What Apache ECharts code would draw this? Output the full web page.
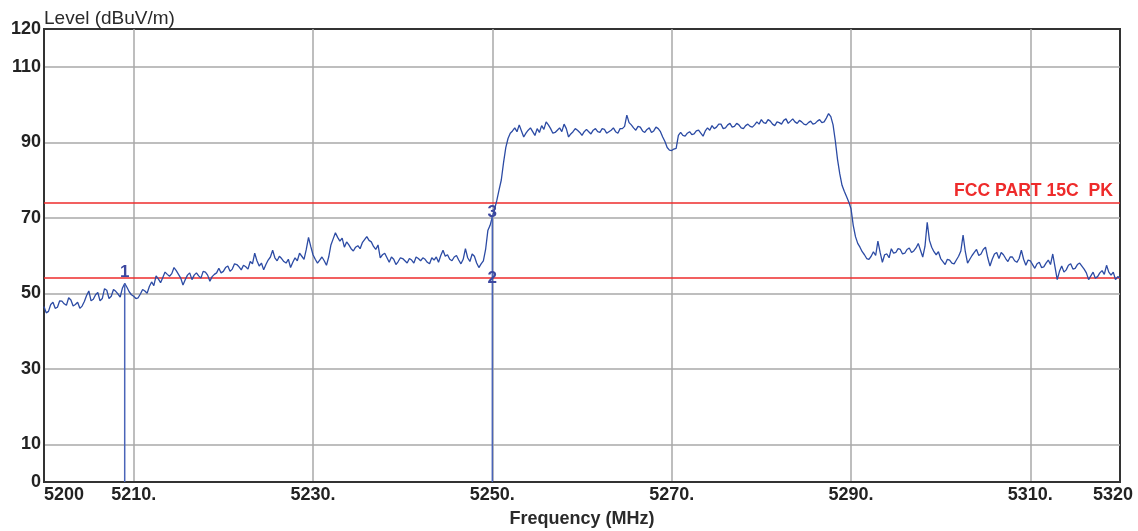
<!DOCTYPE html>
<html>
<head>
<meta charset="utf-8">
<script src="https://cdn.jsdelivr.net/npm/echarts@6/dist/echarts.min.js"></script>
<style>
html,body{margin:0;padding:0;background:#fff;}
#chart{width:1138px;height:531px;}
</style>
</head>
<body>
<div id="chart"></div>
<script>
// ---- data ----
const freqStart = 5200;   // MHz, first sweep point
const freqStep = 0.25;    // MHz between sweep points
const levels = [
  46.5, 44.8, 45.2, 47.0, 47.6, 46.0, 46.3, 48.0, 47.9, 47.2,
  46.8, 48.8, 48.2, 46.6, 47.0, 47.6, 46.0, 46.6, 47.8, 49.4,
  50.6, 48.0, 48.4, 49.6, 50.2, 48.0, 48.6, 51.2, 50.8, 48.6,
  49.2, 51.0, 50.5, 49.8, 49.0, 51.4, 52.6, 51.6, 50.4, 49.6,
  49.2, 48.6, 48.8, 49.8, 51.0, 50.6, 50.0, 51.8, 53.0, 52.0,
  54.6, 53.8, 52.8, 54.2, 55.6, 55.0, 54.5, 55.2, 56.8, 56.0,
  55.0, 54.0, 52.2, 53.6, 54.8, 55.4, 53.6, 54.8, 55.4, 54.6,
  54.0, 55.8, 55.6, 54.8, 53.2, 54.4, 55.0, 55.4, 56.6, 55.4,
  55.8, 56.8, 57.2, 55.8, 56.4, 57.8, 57.6, 57.0, 56.2, 57.4,
  57.0, 56.4, 58.4, 57.8, 60.6, 58.6, 57.2, 58.0, 56.2, 57.6,
  58.8, 59.6, 61.4, 59.4, 58.6, 59.8, 59.2, 58.4, 58.0, 59.0,
  56.8, 58.2, 59.4, 58.6, 60.6, 59.8, 59.0, 61.6, 64.8, 62.4,
  60.2, 59.0, 58.0, 58.8, 59.6, 58.6, 57.4, 59.6, 62.8, 64.4,
  66.0, 64.8, 63.8, 64.6, 62.2, 63.6, 62.8, 61.8, 61.2, 62.2,
  62.6, 61.8, 63.4, 64.2, 65.0, 64.0, 63.6, 62.4, 61.6, 62.8,
  59.4, 60.2, 60.6, 59.4, 58.2, 59.6, 59.0, 57.6, 58.4, 59.4,
  59.2, 58.6, 58.0, 59.2, 58.8, 58.0, 59.6, 59.2, 58.6, 59.4,
  59.0, 58.2, 57.8, 59.4, 58.8, 59.6, 58.2, 60.0, 61.4, 59.8,
  60.2, 59.0, 58.6, 59.6, 60.0, 58.8, 57.8, 59.0, 61.8, 59.4,
  58.4, 60.4, 59.8, 58.0, 56.8, 57.8, 58.6, 61.6, 66.6, 68.0,
  70.2, 72.2, 74.6, 77.4, 80.0, 84.6, 88.6, 91.0, 92.4, 93.0,
  93.8, 92.8, 94.6, 93.0, 91.4, 92.4, 93.2, 93.8, 92.8, 91.8,
  93.6, 92.6, 94.4, 93.4, 95.4, 94.6, 93.6, 92.4, 92.6, 93.2,
  93.8, 92.8, 94.8, 93.6, 91.4, 92.2, 92.8, 93.6, 93.2, 92.6,
  91.8, 92.8, 93.4, 92.8, 92.2, 93.2, 93.6, 92.8, 92.6, 93.6,
  93.4, 92.4, 92.8, 93.2, 93.8, 92.8, 92.4, 93.6, 93.6, 94.2,
  97.2, 95.2, 94.6, 93.8, 93.2, 94.2, 94.0, 93.0, 92.6, 93.4,
  93.8, 92.6, 93.0, 94.0, 93.6, 92.8, 91.4, 90.2, 88.6, 87.9,
  87.8, 88.2, 88.4, 91.8, 92.6, 91.8, 91.6, 92.4, 92.8, 92.0,
  92.2, 93.0, 93.2, 92.4, 91.6, 93.0, 93.8, 93.2, 94.4, 93.6,
  94.0, 94.8, 94.8, 93.6, 93.8, 94.6, 95.0, 94.0, 94.2, 95.0,
  94.6, 93.8, 93.6, 94.4, 94.8, 94.2, 94.0, 94.6, 95.4, 94.8,
  96.0, 95.2, 95.0, 96.0, 95.6, 94.8, 94.4, 95.4, 95.2, 94.8,
  95.8, 96.2, 95.0, 95.6, 96.2, 95.4, 95.0, 95.8, 95.4, 94.8,
  94.6, 95.2, 95.6, 94.8, 95.0, 95.6, 96.0, 95.2, 95.4, 96.4,
  97.6, 96.8, 94.6, 90.4, 85.4, 81.6, 78.6, 77.0, 75.6, 74.2,
  72.4, 68.0, 65.0, 63.2, 62.2, 61.0, 60.2, 59.2, 59.0, 59.8,
  61.0, 60.0, 63.8, 60.8, 58.2, 60.2, 60.4, 59.4, 61.8, 60.6,
  60.8, 61.8, 61.6, 60.4, 60.6, 61.6, 62.0, 60.8, 61.2, 62.0,
  63.2, 61.4, 59.6, 62.4, 68.8, 64.0, 62.2, 61.0, 60.2, 61.0,
  59.2, 58.4, 57.6, 59.0, 58.8, 58.0, 57.8, 58.8, 59.8, 61.2,
  65.4, 61.0, 58.0, 59.0, 60.0, 60.8, 61.6, 60.0, 60.4, 61.6,
  62.2, 59.4, 57.2, 59.0, 60.4, 60.8, 59.2, 60.8, 60.2, 59.2,
  58.4, 59.6, 59.6, 58.6, 58.2, 59.2, 61.4, 59.0, 57.4, 58.8,
  58.6, 57.6, 56.6, 57.8, 58.2, 56.8, 57.0, 58.0, 58.8, 57.6,
  60.4, 57.0, 53.6, 55.8, 57.2, 55.6, 56.2, 57.4, 57.8, 56.4,
  56.6, 57.6, 58.0, 57.2, 56.4, 55.4, 53.6, 54.6, 55.6, 54.0,
  54.4, 55.4, 56.0, 55.0, 57.4, 55.6, 54.8, 55.6, 53.6, 54.4,
  54.0
];
const limitValues = [74, 54];
const limitLabels = ['FCC PART 15C  PK', ''];
const markerNames = ['1', '2', '3'];
const markerFreqs = [5209, 5250, 5250];
const markerLevels = [52.6, 54.0, 70.2];
const markerLabelLevels = [55.6, 54.0, 71.5];
const xTickValues = [5200, 5210, 5230, 5250, 5270, 5290, 5310, 5320];
const xTickLabels = ['5200', '5210.', '5230.', '5250.', '5270.', '5290.', '5310.', '5320'];
const yTickValues = [0, 10, 30, 50, 70, 90, 110, 120];
const yTickLabels = ['0', '10', '30', '50', '70', '90', '110', '120'];
const yTitle = 'Level (dBuV/m)';
const xTitle = 'Frequency (MHz)';

// ---- build ----
const FONT = '"Liberation Sans", Arial, sans-serif';
const trace = levels.map((v, i) => [freqStart + i * freqStep, v]);
const gridColor = '#a9a9a9';
const markerColor = '#4a64b8';
const tickFont = { fontFamily: FONT, fontSize: 18, fontWeight: 'bold', color: '#222222' };

function tickText(values, labels, lastRich) {
  return function (v) {
    const k = values.indexOf(Math.round(v * 1000) / 1000);
    if (k < 0) return '';
    if (lastRich && k === values.length - 1) return '{last|' + labels[k] + '}';
    return labels[k];
  };
}

const series = [
  {
    type: 'line',
    data: trace,
    showSymbol: false,
    symbol: 'none',
    z: 3,
    lineStyle: { color: '#2c4ba4', width: 1.3 },
    markLine: {
      silent: true,
      symbol: 'none',
      z: 2,
      lineStyle: { color: '#ee2b2b', width: 1.5, type: 'solid' },
      data: limitValues.map((v, i) => ({
        yAxis: v,
        label: {
          show: limitLabels[i] !== '',
          formatter: limitLabels[i],
          position: 'insideEndTop',
          distance: [7, 3],
          color: '#ee2b2b',
          fontFamily: FONT,
          fontWeight: 'bold',
          fontSize: 17.6
        }
      }))
    }
  }
];

// one vertical line per distinct marker frequency, up to its highest marker
const lineFreqs = [];
const lineTops = [];
markerFreqs.forEach((f, i) => {
  const k = lineFreqs.indexOf(f);
  if (k < 0) { lineFreqs.push(f); lineTops.push(markerLevels[i]); }
  else lineTops[k] = Math.max(lineTops[k], markerLevels[i]);
});
lineFreqs.forEach((f, i) => {
  series.push({
    type: 'line',
    data: [[f, 0], [f, lineTops[i]]],
    showSymbol: false,
    symbol: 'none',
    z: 4,
    lineStyle: { color: markerColor, width: 1.5 }
  });
});

series.push({
  type: 'scatter',
  z: 5,
  symbolSize: 1,
  itemStyle: { color: '#ffffff', opacity: 1 },
  data: markerNames.map((n, i) => ({ name: n, value: [markerFreqs[i], markerLabelLevels[i]] })),
  label: {
    show: true,
    position: 'inside',
    formatter: p => p.name,
    color: '#3d48a0',
    opacity: 1,
    textBorderWidth: 0,
    fontFamily: FONT,
    fontWeight: 'bold',
    fontSize: 17
  }
});

const chart = echarts.init(document.getElementById('chart'), null, { renderer: 'canvas' });
chart.setOption({
  animation: false,
  backgroundColor: '#ffffff',
  title: {
    text: yTitle,
    left: 39,
    top: 4,
    textStyle: { fontFamily: FONT, fontSize: 19, fontWeight: 'normal', color: '#2a2a2a' }
  },
  grid: {
    left: 44, right: 18, top: 29, bottom: 49,
    outerBoundsMode: 'none',
    containLabel: false,
    show: true, borderColor: '#333333', borderWidth: 2, backgroundColor: '#ffffff'
  },
  xAxis: {
    type: 'value',
    min: 5200, max: 5320, interval: 10,
    name: xTitle,
    nameLocation: 'middle',
    nameGap: 28,
    nameTextStyle: { fontFamily: FONT, fontSize: 18, fontWeight: 'bold', color: '#2a2a2a' },
    axisLine: { show: true, lineStyle: { color: '#333333', width: 2 } },
    axisTick: { show: false },
    axisLabel: Object.assign({
      margin: 4,
      formatter: tickText(xTickValues, xTickLabels, true),
      showMinLabel: true, showMaxLabel: true, alignMinLabel: 'left', hideOverlap: false,
      rich: { last: Object.assign({ padding: [0, 14, 0, 0] }, tickFont) }
    }, tickFont),
    splitLine: { show: true, lineStyle: { color: ['rgba(0,0,0,0)', gridColor], width: 1.5 } }
  },
  yAxis: {
    type: 'value',
    min: 0, max: 120, interval: 10,
    axisLine: { show: true, lineStyle: { color: '#333333', width: 2 } },
    axisTick: { show: false },
    axisLabel: Object.assign({
      margin: 3,
      formatter: tickText(yTickValues, yTickLabels, false),
      showMinLabel: true, showMaxLabel: true, hideOverlap: false
    }, tickFont),
    splitLine: { show: true, lineStyle: { color: ['rgba(0,0,0,0)', gridColor], width: 1.5 } }
  },
  series: series
});
</script>
</body>
</html>
